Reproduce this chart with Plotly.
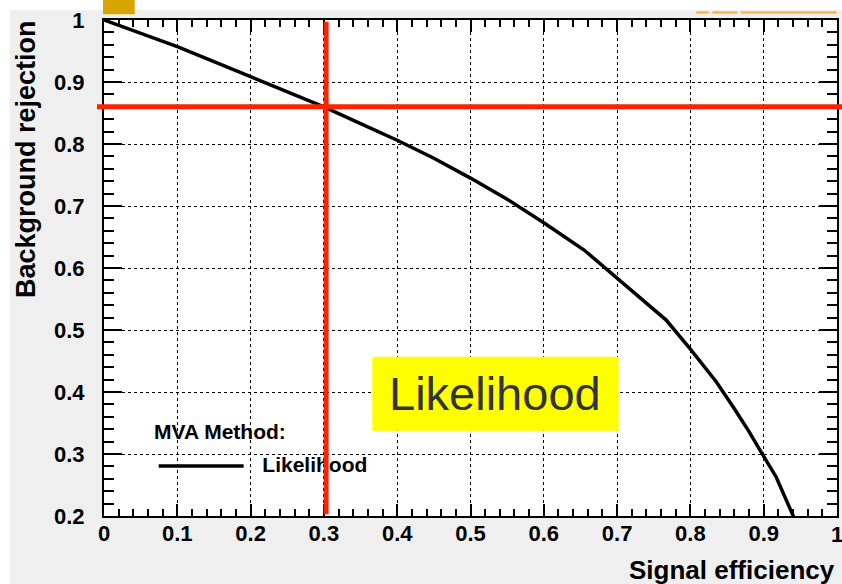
import plotly.graph_objects as go

# ROC curve data
signal_eff = [0.0, 0.05, 0.1, 0.15, 0.2, 0.25, 0.3, 0.35, 0.4, 0.45, 0.5, 0.55,
              0.6, 0.655, 0.7, 0.767, 0.8, 0.835, 0.86, 0.88, 0.9, 0.917, 0.944]
bkg_rej = [1.0, 0.979, 0.957, 0.933, 0.909, 0.885, 0.860, 0.833, 0.806, 0.777, 0.745, 0.711,
           0.673, 0.629, 0.584, 0.516, 0.469, 0.417, 0.373, 0.336, 0.296, 0.263, 0.19]

cut_eff = 0.303
cut_rej = 0.86

x_ticks = [0, 0.1, 0.2, 0.3, 0.4, 0.5, 0.6, 0.7, 0.8, 0.9, 1]
x_ticklabels = ["0", "0.1", "0.2", "0.3", "0.4", "0.5", "0.6", "0.7", "0.8", "0.9", "1"]
y_ticks = [0.2, 0.3, 0.4, 0.5, 0.6, 0.7, 0.8, 0.9, 1]
y_ticklabels = ["0.2", "0.3", "0.4", "0.5", "0.6", "0.7", "0.8", "0.9", "1"]

method_name = "Likelihood"

FONT = "Liberation Sans, Arial, Helvetica, sans-serif"

fig = go.Figure()
fig.add_trace(go.Scatter(x=signal_eff, y=bkg_rej, mode="lines",
                         line=dict(color="black", width=3.5), showlegend=False,
                         hoverinfo="skip"))
# legend entry text
fig.add_trace(go.Scatter(x=[0.216], y=[0.2795], mode="text", text=[method_name],
                         textposition="middle right",
                         textfont=dict(family=FONT, size=21, color="black", weight="bold"),
                         showlegend=False, hoverinfo="skip"))

tick_font = dict(family=FONT, size=22, color="black", weight="bold")

axis_common = dict(
    showline=True, linecolor="black", linewidth=2, mirror="allticks",
    ticks="inside", tickwidth=2, tickcolor="black",
    showgrid=True, gridcolor="black", gridwidth=1, griddash="dot",
    zeroline=False, automargin=False,
    tickfont=tick_font,
)

fig.update_xaxes(range=[0, 1], tickvals=x_ticks, ticktext=x_ticklabels, ticklen=12,
                 minor=dict(dtick=0.02, ticks="inside", ticklen=7, tickwidth=2,
                            tickcolor="black", showgrid=False),
                 ticklabelstandoff=-3, **axis_common)
fig.update_yaxes(range=[0.2, 1], tickvals=y_ticks, ticktext=y_ticklabels, ticklen=18,
                 minor=dict(dtick=0.02, ticks="inside", ticklen=10, tickwidth=2,
                            tickcolor="black", showgrid=False),
                 ticklabelstandoff=13, **axis_common)

shapes = [
    # white page strips at top and left
    dict(type="rect", xref="paper", yref="paper", x0=-0.15, x1=1.02, y0=1.0202, y1=1.05,
         fillcolor="white", line=dict(width=0), layer="above"),
    dict(type="rect", xref="paper", yref="paper", x0=-0.15, x1=-0.1282, y0=-0.15, y1=1.05,
         fillcolor="white", line=dict(width=0), layer="above"),
    # gold tab at top
    dict(type="rect", xref="paper", yref="paper", x0=-0.0014, x1=0.0419, y0=1.0115, y1=1.045,
         fillcolor="#d8a600", line=dict(width=0), layer="above"),
    # orange strip top right
    dict(type="rect", xref="paper", yref="paper", x0=0.808, x1=0.825, y0=1.0125, y1=1.0177,
         fillcolor="#ffb548", line=dict(width=0), layer="above"),
    dict(type="rect", xref="paper", yref="paper", x0=0.830, x1=0.864, y0=1.0125, y1=1.0177,
         fillcolor="#ffb548", line=dict(width=0), layer="above"),
    dict(type="rect", xref="paper", yref="paper", x0=0.869, x1=0.9995, y0=1.0125, y1=1.0177,
         fillcolor="#ffb548", line=dict(width=0), layer="above"),
    # yellow label box
    dict(type="rect", xref="x", yref="y", x0=0.366, x1=0.702, y0=0.3376, y1=0.457,
         fillcolor="#ffff00", line=dict(width=0), layer="above"),
    # legend line
    dict(type="line", xref="x", yref="y", x0=0.0747, x1=0.1905, y0=0.2806, y1=0.2806,
         line=dict(color="black", width=3.5), layer="above"),
    # red cut lines
    dict(type="line", xref="paper", yref="y", x0=-0.0096, x1=1.01, y0=cut_rej, y1=cut_rej,
         line=dict(color="#ff2200", width=5), layer="above"),
    dict(type="line", xref="x", yref="y", x0=cut_eff, x1=cut_eff, y0=0.203, y1=0.997,
         line=dict(color="#ff2200", width=5), layer="above"),
]

annotations = [
    # last x tick label (plotly hides it at the page edge)
    dict(text=x_ticklabels[-1], xref="x", yref="paper", x=x_ticks[-1], y=-0.0383,
         xanchor="center", yanchor="middle", showarrow=False, font=tick_font),
    dict(text="Signal efficiency", xref="paper", yref="paper", x=1.0, y=-0.109,
         xanchor="right", yanchor="middle", showarrow=False,
         font=dict(family=FONT, size=26, color="black", weight="bold")),
    dict(text="Background rejection", xref="paper", yref="paper", x=-0.1064, y=1.004,
         xanchor="center", yanchor="top", textangle=-90, showarrow=False,
         font=dict(family=FONT, size=27, color="black", weight="bold")),
    dict(text="MVA Method:", xref="x", yref="y", x=0.066, y=0.337,
         xanchor="left", yanchor="middle", showarrow=False,
         font=dict(family=FONT, size=21, color="black", weight="bold")),
    dict(text=method_name, xref="x", yref="y", x=0.534, y=0.3976,
         xanchor="center", yanchor="middle", showarrow=False,
         font=dict(family=FONT, size=47, color="#333333")),
]

fig.update_layout(
    width=842, height=584,
    margin=dict(l=104, r=5, t=20, b=68, pad=0),
    paper_bgcolor="#efefef", plot_bgcolor="white",
    shapes=shapes, annotations=annotations,
    showlegend=False,
)

fig.write_html("out.html")
